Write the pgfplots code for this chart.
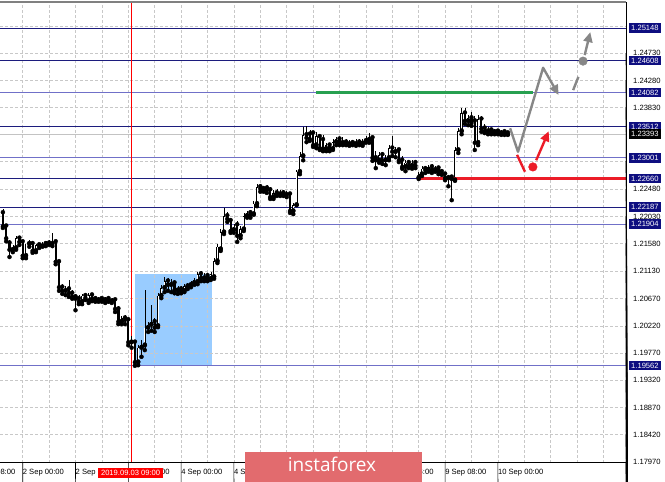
\documentclass[border=0pt]{standalone}
\usepackage{fontspec}
\setmainfont{Liberation Sans}
\newfontfamily\logofont{Open Sans}
\usepackage{pgfplots}
\usepackage{pgfplotstable}
\pgfplotsset{compat=1.18}
\usetikzlibrary{arrows.meta}
\definecolor{navyline}{RGB}{28,28,125}
\definecolor{lightline}{RGB}{112,112,200}
\definecolor{navybox}{RGB}{14,14,128}
\definecolor{gridgray}{RGB}{200,200,200}
\definecolor{bidgray}{RGB}{195,195,195}
\definecolor{arrgray}{RGB}{135,135,135}
\definecolor{arrred}{RGB}{236,28,40}
\definecolor{lvlgreen}{RGB}{40,160,80}
\definecolor{boxblue}{RGB}{153,204,255}
\definecolor{logored}{RGB}{226,107,110}
\tikzset{lbl/.style={font=\fontsize{7.6}{8}\selectfont, inner sep=0pt},
         tag/.style={font=\fontsize{7.6}{8}\selectfont, anchor=west, xshift=3pt, inner xsep=2pt, inner ysep=2pt, text height=5.5pt, text depth=0pt, text=white}}

\pgfplotstableread{
x o h l c
-6 1.2209 1.2215 1.2184 1.2187
-5 1.2187 1.2191 1.2162 1.2167
-4 1.2159 1.2164 1.2136 1.2148
-3 1.2148 1.2156 1.2144 1.2153
-2 1.2151 1.2171 1.2148 1.2167
-1 1.2167 1.2171 1.2156 1.2161
0 1.2161 1.2164 1.2134 1.2138
1 1.2138 1.2144 1.2134 1.2158
2 1.2158 1.2164 1.2153 1.2159
3 1.2158 1.2161 1.2143 1.2146
4 1.2146 1.2158 1.2144 1.2156
5 1.2156 1.2159 1.2151 1.2154
6 1.2154 1.2161 1.2153 1.2158
7 1.2158 1.2162 1.2154 1.2159
8 1.2159 1.2164 1.2156 1.2158
9 1.2158 1.2176 1.2154 1.2161
10 1.2161 1.2162 1.2124 1.2128
11 1.2128 1.2131 1.2080 1.2086
12 1.2086 1.2091 1.2075 1.2080
13 1.2080 1.2088 1.2073 1.2083
14 1.2083 1.2098 1.2070 1.2076
15 1.2076 1.2081 1.2067 1.2070
16 1.2070 1.2075 1.2048 1.2067
17 1.2067 1.2073 1.2058 1.2062
18 1.2062 1.2075 1.2058 1.2072
19 1.2072 1.2076 1.2065 1.2068
20 1.2063 1.2076 1.2060 1.2073
21 1.2073 1.2075 1.2063 1.2067
22 1.2067 1.2072 1.2062 1.2065
23 1.2065 1.2070 1.2062 1.2067
24 1.2067 1.2070 1.2062 1.2065
25 1.2065 1.2070 1.2060 1.2067
26 1.2067 1.2070 1.2062 1.2063
27 1.2063 1.2068 1.2060 1.2065
28 1.2065 1.2068 1.2045 1.2050
29 1.2050 1.2055 1.2025 1.2029
30 1.2029 1.2038 1.2025 1.2035
31 1.2035 1.2040 1.2025 1.2032
32 1.2032 1.2035 1.1990 1.1995
33 1.1995 1.2005 1.1986 1.1999
34 1.1995 1.1999 1.1956 1.1962
35 1.1962 1.1990 1.1957 1.1986
36 1.1986 1.1999 1.1971 1.1990
37 1.1990 1.2081 1.1982 1.2019
38 1.2019 1.2029 1.2012 1.2024
39 1.2024 1.2057 1.2014 1.2029
40 1.2029 1.2035 1.2012 1.2019
41 1.2022 1.2076 1.2020 1.2072
42 1.2072 1.2090 1.2068 1.2085
43 1.2085 1.2103 1.2078 1.2096
44 1.2096 1.2101 1.2080 1.2090
45 1.2090 1.2100 1.2078 1.2093
46 1.2093 1.2096 1.2076 1.2081
47 1.2081 1.2088 1.2075 1.2083
48 1.2083 1.2088 1.2076 1.2080
49 1.2080 1.2091 1.2078 1.2088
50 1.2088 1.2093 1.2083 1.2090
51 1.2090 1.2096 1.2086 1.2093
52 1.2093 1.2101 1.2090 1.2098
53 1.2095 1.2111 1.2091 1.2108
54 1.2108 1.2113 1.2096 1.2101
55 1.2101 1.2110 1.2096 1.2105
56 1.2105 1.2110 1.2096 1.2100
57 1.2100 1.2111 1.2098 1.2108
58 1.2103 1.2134 1.2100 1.2129
59 1.2129 1.2158 1.2126 1.2153
60 1.2149 1.2182 1.2146 1.2177
61 1.2177 1.2217 1.2174 1.2204
62 1.2204 1.2210 1.2194 1.2199
63 1.2196 1.2201 1.2176 1.2179
64 1.2181 1.2191 1.2176 1.2186
65 1.2189 1.2196 1.2161 1.2171
66 1.2171 1.2187 1.2167 1.2182
67 1.2182 1.2209 1.2179 1.2204
68 1.2204 1.2212 1.2201 1.2209
69 1.2209 1.2214 1.2201 1.2206
70 1.2207 1.2229 1.2206 1.2224
71 1.2224 1.2257 1.2220 1.2252
72 1.2252 1.2257 1.2244 1.2249
73 1.2249 1.2253 1.2244 1.2250
74 1.2250 1.2255 1.2242 1.2247
75 1.2247 1.2252 1.2232 1.2235
76 1.2235 1.2247 1.2232 1.2242
77 1.2242 1.2249 1.2237 1.2240
78 1.2240 1.2247 1.2237 1.2242
79 1.2242 1.2247 1.2237 1.2239
80 1.2239 1.2245 1.2235 1.2240
81 1.2240 1.2242 1.2209 1.2212
82 1.2212 1.2225 1.2207 1.2222
83 1.2222 1.2280 1.2222 1.2277
84 1.2277 1.2310 1.2273 1.2303
85 1.2303 1.2351 1.2296 1.2338
86 1.2338 1.2353 1.2326 1.2333
87 1.2339 1.2346 1.2328 1.2331
88 1.2341 1.2344 1.2318 1.2321
89 1.2321 1.2343 1.2316 1.2336
90 1.2335 1.2338 1.2313 1.2316
91 1.2330 1.2338 1.2311 1.2315
92 1.2315 1.2325 1.2311 1.2321
93 1.2321 1.2325 1.2311 1.2315
94 1.2315 1.2331 1.2313 1.2326
95 1.2326 1.2335 1.2321 1.2331
96 1.2331 1.2335 1.2321 1.2325
97 1.2325 1.2335 1.2321 1.2326
98 1.2326 1.2331 1.2321 1.2323
99 1.2323 1.2330 1.2320 1.2325
100 1.2325 1.2330 1.2321 1.2323
101 1.2323 1.2331 1.2320 1.2326
102 1.2326 1.2331 1.2321 1.2323
103 1.2323 1.2331 1.2320 1.2328
104 1.2328 1.2336 1.2325 1.2330
105 1.2330 1.2341 1.2325 1.2333
106 1.2333 1.2336 1.2295 1.2300
107 1.2300 1.2311 1.2283 1.2296
108 1.2296 1.2310 1.2292 1.2305
109 1.2305 1.2310 1.2290 1.2296
110 1.2296 1.2305 1.2288 1.2300
111 1.2300 1.2321 1.2296 1.2316
112 1.2316 1.2336 1.2303 1.2310
113 1.2310 1.2318 1.2301 1.2313
114 1.2313 1.2316 1.2293 1.2296
115 1.2296 1.2303 1.2282 1.2285
116 1.2285 1.2296 1.2278 1.2292
117 1.2292 1.2296 1.2283 1.2287
118 1.2287 1.2296 1.2282 1.2292
119 1.2292 1.2295 1.2283 1.2287
120 1.2267 1.2277 1.2265 1.2273
121 1.2273 1.2287 1.2270 1.2282
122 1.2282 1.2287 1.2275 1.2280
123 1.2280 1.2288 1.2277 1.2285
124 1.2285 1.2290 1.2275 1.2280
125 1.2280 1.2287 1.2277 1.2283
126 1.2283 1.2287 1.2273 1.2277
127 1.2277 1.2282 1.2272 1.2273
128 1.2273 1.2277 1.2263 1.2267
129 1.2267 1.2272 1.2253 1.2268
130 1.2268 1.2272 1.2230 1.2265
131 1.2263 1.2318 1.2262 1.2313
132 1.2313 1.2349 1.2308 1.2344
133 1.2344 1.2382 1.2339 1.2374
134 1.2374 1.2382 1.2356 1.2361
135 1.2361 1.2371 1.2354 1.2366
136 1.2366 1.2376 1.2353 1.2358
137 1.2361 1.2369 1.2313 1.2325
138 1.2325 1.2371 1.2321 1.2364
139 1.2364 1.2369 1.2343 1.2348
140 1.2349 1.2356 1.2341 1.2344
141 1.2344 1.2351 1.2339 1.2346
142 1.2346 1.2349 1.2339 1.2343
143 1.2343 1.2348 1.2339 1.2344
144 1.2344 1.2348 1.2339 1.2341
145 1.2341 1.2346 1.2338 1.2343
146 1.2343 1.2346 1.2338 1.2341
147 1.2341 1.2344 1.2338 1.2339
}\candles

\begin{document}
\begin{tikzpicture}
\begin{axis}[
  set layers,
  scale only axis, width=626pt, height=461pt, at={(0pt,19pt)}, anchor=south west,
  xmin=-6.879, xmax=182.82, ymin=1.17953, ymax=1.25578,
  clip=false,
  axis line style={draw=none},
  xmajorticks=false, ymajorticks=false,
  xtick={0,8,...,176},
  ytick={1.17970,1.18420,1.18870,1.19320,1.19770,1.20220,1.20670,1.21130,1.21580,1.22030,1.22480,1.22950,1.23390,1.23830,1.24280,1.24730,1.25180},
  xmajorgrids=true, ymajorgrids=true,
  grid style={draw=gridgray, dash pattern=on 2.5pt off 2.5pt, line width=0.6pt},
]
% highlighted box
\addplot[fill=boxblue, draw=none, on layer=axis background] coordinates {(34,1.19562) (57.4,1.19562) (57.4,1.2108) (34,1.2108)};
% level lines
\addplot[navyline, line width=0.9pt] coordinates {(-6.879,1.25148) (182.82,1.25148)};
\addplot[navyline, line width=0.9pt] coordinates {(-6.879,1.24608) (182.82,1.24608)};
\addplot[lightline, line width=1.1pt] coordinates {(-6.879,1.24082) (182.82,1.24082)};
\addplot[navyline, line width=0.9pt] coordinates {(-6.879,1.23512) (182.82,1.23512)};
\addplot[bidgray, line width=0.9pt] coordinates {(-6.879,1.23393) (182.82,1.23393)};
\addplot[lightline, line width=1.1pt] coordinates {(-6.879,1.23001) (182.82,1.23001)};
\addplot[navyline, line width=0.9pt] coordinates {(-6.879,1.22660) (182.82,1.22660)};
\addplot[navyline, line width=0.9pt] coordinates {(-6.879,1.22187) (182.82,1.22187)};
\addplot[lightline, line width=1.1pt] coordinates {(-6.879,1.21904) (182.82,1.21904)};
\addplot[lightline, line width=1.1pt] coordinates {(-6.879,1.19562) (182.82,1.19562)};
% red vertical period separator
\addplot[red, line width=0.9pt] coordinates {(33,1.17953) (33,1.25578)};
% wicks
\addplot[only marks, mark=none, error bars/.cd, y dir=plus, y explicit, error mark=none,
  error bar style={draw=black, line width=0.6pt}]
  table[x=x, y=l, y error plus expr={\thisrow{h}-\thisrow{l}}] {\candles};
% all bodies (black)
\addplot[only marks, mark=none,
  error bars/.cd, y dir=plus, y explicit, error mark=none,
  error bar style={draw=black, line width=2.2pt}]
  table[x=x, y expr={min(\thisrow{o},\thisrow{c})}, y error plus expr={max(abs(\thisrow{o}-\thisrow{c}),0.0001)}] {\candles};
% hollow interior of bullish bodies (zero length for bearish ones)
\addplot[only marks, mark=none,
  error bars/.cd, y dir=plus, y explicit, error mark=none,
  error bar style={draw=white, line width=0.8pt}]
  table[x=x, y expr={\thisrow{o}+0.00011}, y error plus expr={max(\thisrow{c}-\thisrow{o}-0.00022,0)}] {\candles};
% thick levels
\addplot[lvlgreen, line width=2.4pt] coordinates {(89,1.24082) (154.6,1.24082)};
\addplot[arrred, line width=2.4pt] coordinates {(120,1.22660) (182.82,1.22660)};
% forecast arrows
\addplot[arrgray, line width=2.4pt, line join=round, -{Triangle[length=10pt,width=9pt]}] coordinates {(147.7,1.2349) (150.1,1.2310) (157.7,1.2449) (162.4,1.2404)};
\addplot[arrred, line width=2.4pt] coordinates {(149.8,1.2305) (152.2,1.2277)};
\addplot[only marks, mark=*, mark size=4.3pt, mark options={fill=arrred, draw=arrred}] coordinates {(154.6,1.2285)};
\addplot[arrred, line width=2.4pt, -{Triangle[length=10pt,width=9pt]}] coordinates {(155.6,1.2296) (159.4,1.2344)};
\addplot[arrgray, line width=2.4pt] coordinates {(166.8,1.2412) (168.4,1.2434)};
\addplot[only marks, mark=*, mark size=4.3pt, mark options={fill=arrgray, draw=arrgray}] coordinates {(169.8,1.2460)};
\addplot[arrgray, line width=2.4pt, -{Triangle[length=10pt,width=9pt]}] coordinates {(170.3,1.2470) (172.0,1.2508)};
% frame
\draw[black, line width=1pt] (axis cs:182.82,1.17953) -- (axis cs:182.82,1.25578);
\draw[black, line width=1pt] (axis cs:-6.879,1.17953) -- (axis cs:182.82,1.17953);
\draw[gray, line width=1.5pt] (axis cs:-6.879,1.25578) -- (axis cs:182.82,1.25578);
% price scale ticks and labels
\pgfplotsinvokeforeach{1.17970,1.18420,1.18870,1.19320,1.19770,1.20220,1.20670,1.21130,1.21580,1.22030,1.22480,1.22950,1.23830,1.24280,1.24730}{
  \draw[black, line width=0.6pt] (axis cs:182.82,#1) -- ++(4pt,0);
  \node[lbl, anchor=west, xshift=7pt] at (axis cs:182.82,#1) {#1};
}
\pgfplotsinvokeforeach{1.25148,1.24608,1.24082,1.23512,1.23001,1.22660,1.22187,1.21904,1.19562}{
  \node[tag, fill=navybox] at (axis cs:182.82,#1) {#1};
}
\node[tag, fill=black] at (axis cs:182.82,1.23393) {1.23393};
% time scale
\pgfplotsinvokeforeach{0,16,32,48,64,80,96,112,128,144}{
  \draw[black, line width=0.6pt] (axis cs:#1,1.17953) -- ++(0,-4pt);
}
\node[lbl, anchor=west, yshift=-9.5pt] at (axis cs:-16,1.17953) {30 Aug 08:00};
\node[lbl, anchor=west, yshift=-9.5pt] at (axis cs:0,1.17953) {2 Sep 00:00};
\node[lbl, anchor=west, yshift=-9.5pt] at (axis cs:16,1.17953) {2 Sep 16:00};
\node[lbl, anchor=west, yshift=-9.5pt] at (axis cs:32,1.17953) {3 Sep 08:00};
\node[lbl, anchor=west, yshift=-9.5pt] at (axis cs:48,1.17953) {4 Sep 00:00};
\node[lbl, anchor=west, yshift=-9.5pt] at (axis cs:64,1.17953) {4 Sep 16:00};
\node[lbl, anchor=west, yshift=-9.5pt] at (axis cs:112,1.17953) {6 Sep 16:00};
\node[lbl, anchor=west, yshift=-9.5pt] at (axis cs:128,1.17953) {9 Sep 08:00};
\node[lbl, anchor=west, yshift=-9.5pt] at (axis cs:144,1.17953) {10 Sep 00:00};
\node[font=\fontsize{7.6}{8}\selectfont, fill=red, text=white, inner xsep=3pt, inner ysep=2.5pt, text height=5.5pt, text depth=0pt, yshift=-10pt] at (axis cs:32.7,1.17953) {2019.09.03 09:00};
\end{axis}
% watermark
\fill[logored] (245pt,0pt) rectangle (422pt,30pt);
\node[anchor=base, text=white, font=\logofont\fontsize{19}{20}\selectfont, inner sep=0pt] at (332pt,10pt) {instaforex};
\pgfresetboundingbox
\path[use as bounding box] (0,0) rectangle (665pt,482pt);
\end{tikzpicture}
\end{document}
